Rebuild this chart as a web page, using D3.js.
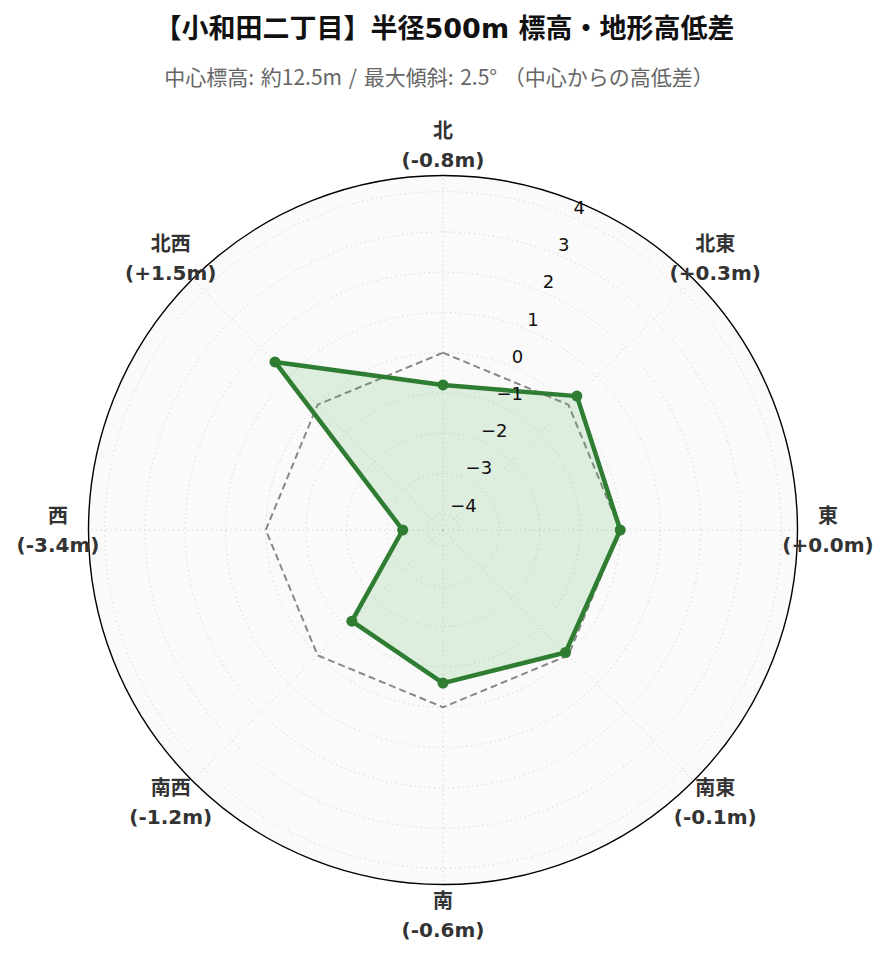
<!DOCTYPE html>
<html><head><meta charset="utf-8">
<script src="https://cdn.jsdelivr.net/npm/d3@7"></script>
<style>
body{margin:0;background:#fff;}
svg{display:block;}
</style></head>
<body>
<script>
const titleText = "【小和田二丁目】半径500m 標高・地形高低差";
const subtitleText = "中心標高: 約12.5m / 最大傾斜: 2.5° （中心からの高低差）";
const directions = ["北","北東","東","南東","南","南西","西","北西"];
const values = [-0.8, 0.3, 0.0, -0.1, -0.6, -1.2, -3.4, 1.5];
const radialTicks = [-4,-3,-2,-1,0,1,2,3,4];
const radialDomain = [-4.4, 4.4];

const W = 889, H = 962;
const cx = 443, cy = 530, R = 354.5;
const FONT = "'DejaVu Sans','Noto Sans CJK JP',sans-serif";
const SUBFONT = "'Noto Sans CJK JP',sans-serif";

const svg = d3.select("body").append("svg").attr("width", W).attr("height", H);

const r = d3.scaleLinear().domain(radialDomain).range([0, R]);
const ang = d3.scaleBand().domain(directions).range([0, 2*Math.PI]).align(0).paddingInner(0).paddingOuter(0);
const angleOf = d => ang(d);
const px = (a, rad) => cx + rad*Math.sin(a);
const py = (a, rad) => cy - rad*Math.cos(a);

// title
svg.append("text").attr("x", 444.5).attr("y", 28).attr("text-anchor","middle").attr("dominant-baseline","central")
  .attr("font-family", FONT).attr("font-weight","bold").attr("font-size", 27).attr("fill","#111").text(titleText);
svg.append("text").attr("x", 439).attr("y", 76).attr("text-anchor","middle").attr("dominant-baseline","central")
  .attr("font-family", SUBFONT).attr("font-size", 21).attr("word-spacing", 2).attr("fill","#666").text(subtitleText);

const g = svg.append("g");
g.append("circle").attr("cx",cx).attr("cy",cy).attr("r",R).attr("fill","#fafafa");

g.selectAll("circle.grid").data(radialTicks).join("circle").attr("class","grid")
  .attr("cx",cx).attr("cy",cy).attr("r", d => r(d))
  .attr("fill","none").attr("stroke","#cfcfcf").attr("stroke-width",1).attr("stroke-dasharray","1.2,3.6");
g.selectAll("line.spoke").data(directions).join("line").attr("class","spoke")
  .attr("x1",cx).attr("y1",cy)
  .attr("x2", d => px(angleOf(d), R)).attr("y2", d => py(angleOf(d), R))
  .attr("stroke","#cfcfcf").attr("stroke-width",1).attr("stroke-dasharray","1.2,3.6");

const zeroLine = d3.lineRadial().angle(d => angleOf(d)).radius(() => r(0)).curve(d3.curveLinearClosed);
g.append("path").attr("transform",`translate(${cx},${cy})`).attr("d", zeroLine(directions))
  .attr("fill","none").attr("stroke","#888").attr("stroke-width",2).attr("stroke-dasharray","7,4");

const pts = directions.map((d,i)=>({d, v: values[i]}));
const dataLine = d3.lineRadial().angle(p => angleOf(p.d)).radius(p => r(p.v)).curve(d3.curveLinearClosed);
g.append("path").attr("transform",`translate(${cx},${cy})`).attr("d", dataLine(pts))
  .attr("fill","#4caf50").attr("fill-opacity",0.16).attr("stroke","none");
g.append("path").attr("transform",`translate(${cx},${cy})`).attr("d", dataLine(pts))
  .attr("fill","none").attr("stroke","#2e7d32").attr("stroke-width",4.5).attr("stroke-linejoin","round");
g.selectAll("circle.pt").data(pts).join("circle").attr("class","pt")
  .attr("cx", p => px(angleOf(p.d), r(p.v))).attr("cy", p => py(angleOf(p.d), r(p.v)))
  .attr("r",5.5).attr("fill","#2e7d32");

const la = Math.PI/8;
g.selectAll("text.rt").data(radialTicks).join("text").attr("class","rt")
  .attr("x", d => px(la, r(d)) + 1).attr("y", d => py(la, r(d)) - 10)
  .attr("text-anchor","start").attr("dominant-baseline","central")
  .attr("font-family", FONT).attr("font-size",18).attr("fill","#111")
  .text(d => d < 0 ? "\u2212" + Math.abs(d) : String(d));

g.append("circle").attr("cx",cx).attr("cy",cy).attr("r",R).attr("fill","none").attr("stroke","#000").attr("stroke-width",1.4);

const fmt = v => "(" + (v >= 0 ? "+" : "-") + Math.abs(v).toFixed(1) + "m)";
const LR = 385;
const lab = g.selectAll("g.lab").data(pts).join("g").attr("class","lab")
  .attr("transform", p => `translate(${px(angleOf(p.d), LR)},${py(angleOf(p.d), LR)})`);
lab.append("text").attr("y",-14).attr("text-anchor","middle").attr("dominant-baseline","central")
  .attr("font-family",FONT).attr("font-weight","bold").attr("font-size",20).attr("fill","#333").text(p => p.d);
lab.append("text").attr("y",15).attr("text-anchor","middle").attr("dominant-baseline","central")
  .attr("font-family",FONT).attr("font-weight","bold").attr("font-size",20).attr("fill","#333").text(p => fmt(p.v));
</script>
</body></html>
